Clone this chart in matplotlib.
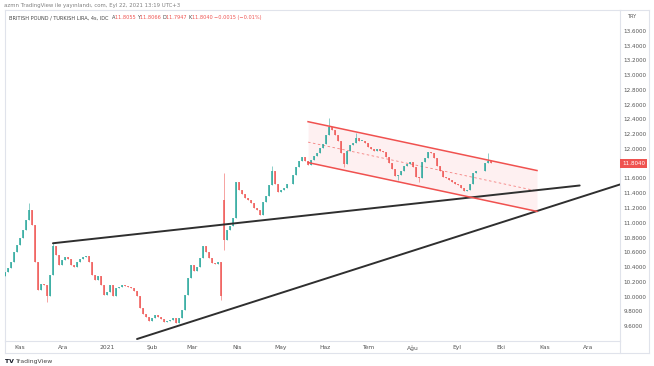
import matplotlib
matplotlib.use("Agg")
import matplotlib.pyplot as plt
import matplotlib.dates as mdates
from matplotlib.transforms import IdentityTransform
from matplotlib.lines import Line2D
import numpy as np
import pandas as pd

# GBP/TRY closes, one candle per ~50h
closes = [
    10.330, 10.384, 10.465, 10.600, 10.695, 10.789, 10.897, 11.032, 11.168, 10.965,
    10.465, 10.086, 10.168, 10.154, 10.005, 10.289, 10.681, 10.559, 10.424, 10.492,
    10.532, 10.505, 10.424, 10.397, 10.465, 10.505, 10.532, 10.546, 10.465, 10.289,
    10.222, 10.276, 10.154, 10.019, 10.059, 10.154, 10.005, 10.114, 10.127, 10.154,
    10.141, 10.127, 10.114, 10.073, 10.005, 9.843, 9.762, 9.722, 9.668, 9.708,
    9.749, 9.722, 9.695, 9.654, 9.668, 9.681, 9.708, 9.641, 9.708, 9.816,
    10.019, 10.249, 10.424, 10.343, 10.397, 10.519, 10.681, 10.600, 10.519, 10.451,
    10.438, 10.465, 10.005, 10.762, 10.897, 10.951, 11.059, 11.546, 11.438, 11.384,
    11.330, 11.303, 11.262, 11.195, 11.168, 11.100, 11.276, 11.357, 11.505, 11.708,
    11.519, 11.411, 11.438, 11.465, 11.519, 11.532, 11.654, 11.749, 11.843, 11.897,
    11.843, 11.789, 11.857, 11.911, 11.951, 12.019, 12.073, 12.195, 12.303, 12.262,
    12.195, 12.114, 11.951, 11.803, 11.978, 12.059, 12.086, 12.154, 12.114, 12.114,
    12.086, 12.032, 12.005, 11.978, 12.005, 11.978, 11.965, 11.897, 11.816, 11.722,
    11.627, 11.641, 11.708, 11.776, 11.803, 11.830, 11.762, 11.614, 11.600, 11.830,
    11.884, 11.965, 11.951, 11.884, 11.776, 11.695, 11.614, 11.600, 11.573, 11.546,
    11.532, 11.505, 11.465, 11.424, 11.438, 11.532, 11.681, 11.695, 11.708, 11.695,
    11.816, 11.843, 11.804,
]
first_open = 10.28
open_override = {73: 11.303}          # weekend gap, 22 Mar 2021
wick_highs = {8: 11.262, 16: 10.722, 73: 11.681, 89: 11.776, 108: 12.424,
              117: 12.222, 161: 11.951}
wick_lows = {14: 9.924, 72: 9.951, 73: 10.627, 113: 11.749, 131: 11.586,
             138: 11.559}

# drawings
support_1 = (["2020-11-24 07:00", "2021-11-25 00:00"], [10.722, 11.505])
support_2 = (["2021-01-21 16:00", "2021-12-23 00:00"], [9.424, 11.519])
channel_dates = ["2021-05-20 10:00", "2021-10-26 09:00"]
channel_top = [12.370, 11.708]
channel_bottom = [11.816, 11.154]

last_price = 11.8040
yticks = [9.6, 9.8, 10.0, 10.2, 10.4, 10.6, 10.8, 11.0, 11.2, 11.4, 11.6, 11.8,
          12.0, 12.2, 12.4, 12.6, 12.8, 13.0, 13.2, 13.4, 13.6]
month_names = ["Oca", "Şub", "Mar", "Nis", "May", "Haz", "Tem", "Ağu", "Eyl",
               "Eki", "Kas", "Ara"]

W, H = 654, 366
fig = plt.figure(figsize=(W / 100, H / 100), dpi=100)
fig.patch.set_facecolor("white")

def fx(x):
    return x / W

def fy(y):
    return 1 - y / H

ax = fig.add_axes([fx(5), fy(341), fx(620) - fx(5), fy(10) - fy(341)])

dates = pd.date_range("2020-10-22", periods=len(closes), freq="50h")
opens = [first_open] + closes[:-1]
for k, v in open_override.items():
    opens[k] = v

up_col = "#26a69a"
dn_col = "#ef5350"
body_w = pd.Timedelta(hours=26)
for i, (d, o, c) in enumerate(zip(dates, opens, closes)):
    col = up_col if c >= o else dn_col
    hi = wick_highs.get(i, max(o, c))
    lo = wick_lows.get(i, min(o, c))
    ax.vlines(d, lo, hi, color=col, lw=0.5, alpha=0.75, zorder=3)
    ax.bar(d, max(abs(c - o), 0.006), bottom=min(o, c), width=body_w,
           color=col, alpha=0.75, zorder=3, linewidth=0)

# trend lines
for dts, vals in (support_1, support_2):
    ax.plot(pd.to_datetime(dts), vals, color="#2f2f2f", lw=1.4, zorder=4,
            solid_capstyle="round")

# parallel channel
cd = pd.to_datetime(channel_dates)
mid = [(a + b) / 2 for a, b in zip(channel_top, channel_bottom)]
ax.fill_between(cd, channel_bottom, channel_top, color="#f23645", alpha=0.07,
                lw=0, zorder=1)
ax.plot(cd, channel_top, color="#f0514f", lw=1.1, zorder=4)
ax.plot(cd, channel_bottom, color="#f0514f", lw=1.1, zorder=4)
ax.plot(cd, mid, color="#f0514f", lw=0.6, ls=(0, (3, 3)), alpha=0.7, zorder=2)

ax.set_xlim(pd.Timestamp("2020-10-22"), pd.Timestamp("2021-12-23"))
ax.set_ylim(9.397, 13.884)

ax.yaxis.tick_right()
ax.set_yticks(yticks)
ax.yaxis.set_major_formatter(plt.FuncFormatter(lambda v, p: f"{v:.4f}"))
ax.tick_params(axis="y", length=0, pad=2.5, labelsize=4.1, labelcolor="#555555")

ax.xaxis.set_major_locator(mdates.MonthLocator())
def month_fmt(v, pos):
    d = mdates.num2date(v)
    return str(d.year) if d.month == 1 else month_names[d.month - 1]
ax.xaxis.set_major_formatter(plt.FuncFormatter(month_fmt))
ax.tick_params(axis="x", length=0, pad=3, labelsize=4.3, labelcolor="#555555")

for s in ax.spines.values():
    s.set_color("#e0e3eb")
    s.set_linewidth(0.8)

# outer frame: price scale and time scale boxes
frame = "#e0e3eb"
for (x0, y0, x1, y1) in [(620, 10, 649, 10), (649, 10, 649, 353), (5, 353, 649, 353),
                         (5, 341, 5, 353), (620, 341, 620, 353)]:
    fig.add_artist(Line2D([fx(x0), fx(x1)], [fy(y0), fy(y1)], color=frame, lw=0.8))

# last price marker
ax.annotate(f"{last_price:.4f}", xy=(1.0, last_price),
            xycoords=("axes fraction", "data"), xytext=(1.5, 0),
            textcoords="offset points", va="center", ha="left",
            fontsize=4.1, color="white",
            bbox=dict(boxstyle="square,pad=0.35", fc="#ef5350", ec="none"))

fig.text(fx(632), fy(17), "TRY", fontsize=3.6, color="#555555", ha="center", va="center")

# header text
renderer = fig.canvas.get_renderer()

def text_run(x, y, parts, size, weights=None):
    for k, (s, col) in enumerate(parts):
        w = weights[k] if weights else "normal"
        t = fig.text(x, H - y, s, fontsize=size, color=col, va="baseline",
                     fontweight=w, transform=IdentityTransform())
        bb = t.get_window_extent(renderer)
        x = bb.x1

text_run(4, 7, [("azmn TradingView ile yayınlandı, com, Eyl 22, 2021 13:19 UTC+3", "#808080")], 3.9)
red = "#ef5350"
grey = "#444444"
text_run(9, 19, [("BRITISH POUND / TURKISH LIRA, 4s, IDC  ", grey),
                 ("A", grey), ("11.8055 ", red),
                 ("Y", grey), ("11.8066 ", red),
                 ("D", grey), ("11.7947 ", red),
                 ("K", grey), ("11.8040 ", red),
                 ("\u22120.0015 (\u22120.01%)", red)], 3.6)

text_run(5, 363, [("TV ", "#131722"), ("TradingView", "#444444")], 4.4,
         weights=["bold", "normal"])

fig.savefig("out.png", dpi=100)
